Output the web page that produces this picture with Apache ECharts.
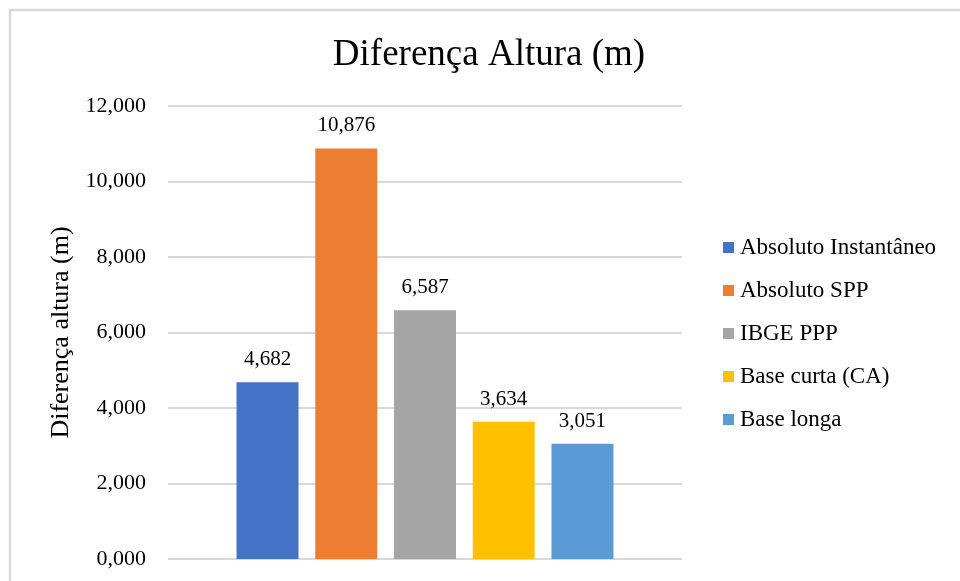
<!DOCTYPE html>
<html>
<head>
<meta charset="utf-8">
<script src="https://cdn.jsdelivr.net/npm/echarts@6/dist/echarts.min.js"></script>
<style>
html,body{margin:0;padding:0;background:#fff;}
#c{width:960px;height:581px;}
</style>
</head>
<body>
<div id="c"></div>
<script>
const titleText = 'Diferença Altura (m)';
const yAxisName = 'Diferença altura (m)';
const category = ['Diferença Altura'];
const seriesNames = ['Absoluto Instantâneo', 'Absoluto SPP', 'IBGE PPP', 'Base curta (CA)', 'Base longa'];
const seriesValues = [4.682, 10.876, 6.587, 3.634, 3.051];
const seriesColors = ['#4472C4', '#ED7D31', '#A5A5A5', '#FFC000', '#5B9BD5'];
const yMin = 0, yMax = 12, yInterval = 2;

const FONT = "'Liberation Serif', 'Times New Roman', serif";
const fmt = v => Number(v).toFixed(3).replace('.', ',');

const chart = echarts.init(document.getElementById('c'), null, {renderer: 'canvas'});
chart.setOption({
  backgroundColor: '#fff',
  animation: false,
  graphic: [{
    type: 'rect',
    shape: {x: 10, y: 10, width: 1200, height: 1200},
    style: {fill: 'none', stroke: '#d9d9d9', lineWidth: 2.5},
    silent: true, z: -1
  }],
  title: {
    text: titleText,
    left: 489, top: 37, textAlign: 'center', padding: 0,
    textStyle: {fontFamily: FONT, fontSize: 37, fontWeight: 'normal', color: '#000'}
  },
  legend: {
    orient: 'vertical',
    left: 723, top: 236,
    itemWidth: 11, itemHeight: 11, itemGap: 20,
    icon: 'rect',
    padding: 0,
    textStyle: {fontFamily: FONT, fontSize: 23, color: '#000', padding: [0, 0, 0, 1]},
    data: seriesNames
  },
  grid: {left: 168, right: 278, top: 106, bottom: 22, containLabel: false},
  xAxis: {
    type: 'category',
    data: category,
    axisLine: {show: false},
    axisTick: {show: false},
    axisLabel: {show: false}
  },
  yAxis: {
    type: 'value',
    min: yMin, max: yMax, interval: yInterval,
    name: yAxisName,
    nameLocation: 'middle',
    nameGap: 94,
    nameTextStyle: {fontFamily: FONT, fontSize: 26, color: '#000'},
    axisLine: {show: false},
    axisTick: {show: false},
    axisLabel: {
      margin: 22, fontFamily: FONT, fontSize: 22, color: '#000',
      formatter: fmt
    },
    splitLine: {lineStyle: {color: '#d9d9d9', width: 2}}
  },
  series: seriesNames.map((n, i) => ({
    name: n,
    type: 'bar',
    data: [seriesValues[i]],
    barWidth: 62,
    barGap: '27%',
    itemStyle: {color: seriesColors[i]},
    label: {
      show: true, position: 'top', distance: 12,
      fontFamily: FONT, fontSize: 21, color: '#000',
      formatter: p => fmt(p.value)
    }
  }))
});
</script>
</body>
</html>
